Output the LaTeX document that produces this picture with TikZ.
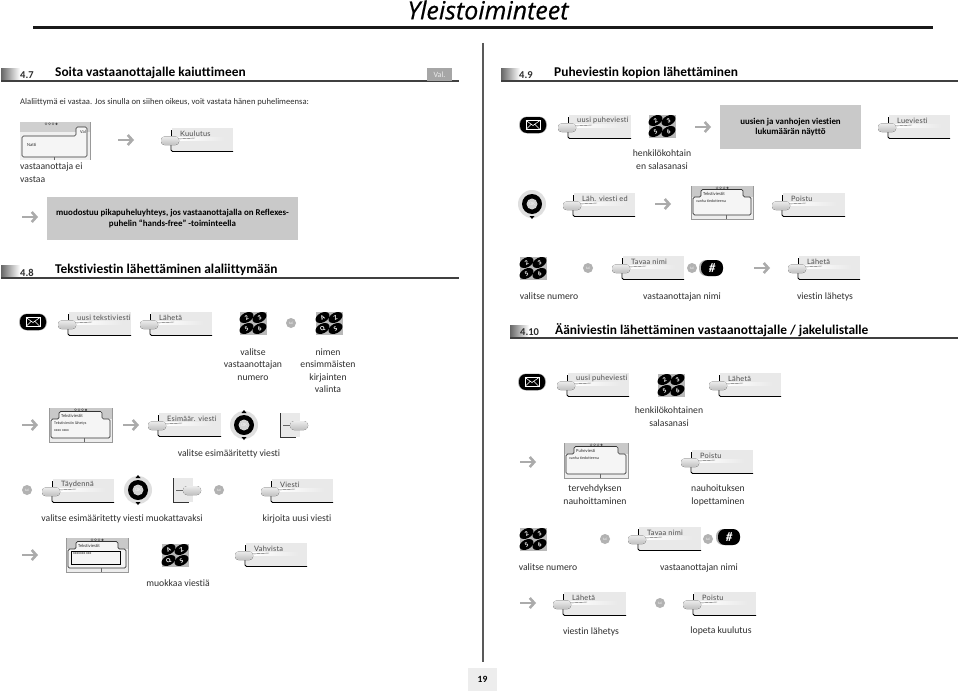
\documentclass[tikz,border=0pt]{standalone}
\usepackage{fontspec}
\setmainfont[Ligatures=NoCommon]{Carlito}
\newfontfamily\keyfont[LetterSpace=3,Ligatures=NoCommon]{Lato}
\newfontfamily\titlefont[ItalicFeatures={FakeBold=0.5}]{Open Sans}
\usetikzlibrary{shapes.geometric,arrows.meta}
\definecolor{boxgray}{HTML}{C9C9C9}
\definecolor{keybg}{HTML}{E9E9E9}
\definecolor{arrowgray}{HTML}{ABABAB}
\definecolor{ink}{HTML}{2E2E2E}
\tikzset{
  x=1pt,y=-1pt,
  body/.style={font=\fontsize{9.7}{13}\selectfont,text=ink,align=center,inner sep=0pt},
  bodyl/.style={body,anchor=west,align=left},
  graybox/.style={fill=boxgray,draw=none,inner sep=0pt,font=\fontsize{8.9}{10.2}\selectfont\bfseries,text=black,align=center},
  keylabel/.style={font=\keyfont\fontsize{7.4}{9}\selectfont,text=ink!85,inner sep=0pt,anchor=west},
  flow/.style={arrowgray,line width=2.6pt,-{Straight Barb[length=4.5pt,width=10pt,line width=2.6pt]}},
  orcircle/.style={circle,fill=gray!60,text=gray!15,minimum size=10pt,inner sep=0pt,font=\fontsize{4}{4}\selectfont},
  secnum/.style={font=\fontsize{10.5}{12}\selectfont\bfseries,text=ink,inner sep=0pt,anchor=west},
  sectitle/.style={font=\fontsize{13.4}{15}\selectfont\bfseries,text=black,inner sep=0pt,anchor=west},
  secline/.style={line width=1.1pt,draw=black!75},
  shade edge/.style={left color=black!60,right color=white},
  scrtext/.style={font=\fontsize{4.6}{5}\selectfont,text=ink,inner sep=0pt,anchor=west},
}
\newcommand\softkey[4]{%
  \begin{scope}[shift={(#1,#2)}]
    \fill[keybg] (1,0) rectangle (#3,24);
    \fill[left color=white,right color=keybg] (7,9.5) rectangle (#3-8,12);
    \draw[black!60,line width=.4pt] (7,11) -- (24,10);
    \draw[line width=.9pt,black,rounded corners=1.5pt] (0,16) -- (0,23.5) -- (#3,23.5);
    \draw[line width=.8pt,black] (0,2) -- (0,8);
    \fill[rounded corners=3.5pt,top color=gray!15,bottom color=gray!50] (-10,8.5) rectangle (8,17);
    \node[keylabel] at (9,5.5) {#4};
  \end{scope}}
\newcommand\revkey[3]{%
  \begin{scope}[shift={(#1,#2)}]
    \fill[keybg] (0,0) rectangle (20,24);
    \draw[line width=.7pt,black!80] (0,0) -- (0,24) -- (16,24);
    \draw[line width=.5pt,black!60] (3,12.5) -- (10,12.5);
    \fill[rounded corners=4pt,top color=gray!15,bottom color=gray!50] (10,8) rectangle (28,#3);
  \end{scope}}
\newcommand\scrdots[1]{%
  \foreach \dx in {-6,-2.5,1} \draw[black!60,line width=.3pt] (#1+\dx,1.8) circle (1.1);
  \fill[black!70] (#1+4.5,1.8) circle (1.2);}
\newcommand\screen[7]{%
  \begin{scope}[shift={(#1,#2)}]
    \fill[gray!14] (0,0) rectangle (#3,#4);
    \fill[gray!42] (0,0) rectangle (#3,11);
    \draw[black!40,line width=.4pt] (0,0) -- (0,#4) -- (#3,#4) -- (#3,0);
    \scrdots{#3/2+1}
    \draw[line width=.7pt,black!80,fill=gray!8,rounded corners=1.5pt]
      (2,#4-4) -- (2,11) -- (10,11) -- (10,3.5) -- (#3-10,3.5) -- (#3-10,11) -- (#3-2,11) -- (#3-2,#4-4) -- cycle;
    \draw[black!60,line width=.4pt] (#3/2+4,#4-4) -- (#3/2+4,#4);
    \node[scrtext] at (12,7.5) {#5};
    \node[scrtext,font=\fontsize{4}{4}\selectfont] at (5,15.5) {#6};
    \node[scrtext,font=\fontsize{4}{4}\selectfont] at (5,22.5) {#7};
  \end{scope}}
\newcommand\keypad[6]{%
  \begin{scope}[shift={(#1,#2)}]
    \fill[gray!55] (-13.5,-11.5) rectangle (13.5,11.5);
    \foreach \px/\py/\lab in {-6.5/-5.5/#3,6.5/-5.5/#4,-6.5/5.5/#5,6.5/5.5/#6}
      \node[ellipse,fill=black,text=white,minimum width=15pt,minimum height=9.5pt,inner sep=0pt,rotate=28,
        font=\fontsize{6.5}{6.5}\selectfont\bfseries] at (\px,\py) {\lab};
  \end{scope}}
\newcommand\mailicon[2]{%
  \begin{scope}[shift={(#1,#2)}]
    \fill[gray!60,rounded corners=8pt] (-14,-8.5) rectangle (14,8.5);
    \fill[black,rounded corners=7pt] (-13,-8) rectangle (13,8);
    \draw[white,line width=.8pt] (-7,-4.5) rectangle (7,4.5);
    \draw[white,line width=.6pt] (-7,-4.5) -- (0,.5) -- (7,-4.5) (-7,4.5) -- (-2,-.5) (7,4.5) -- (2,-.5);
  \end{scope}}
\newcommand\okwheel[3]{%
  \begin{scope}[shift={(#1,#2)}]
    \fill[gray!25] (0,0) circle (14);
    \fill[black] (0,0) circle (10);
    \fill[gray!35] (0,0) circle (5.5);
    \node[inner sep=0pt,text=gray!10,font=\fontsize{5}{5}\selectfont] at (0,0) {OK};
    \fill[black] (-2.5,12) -- (2.5,12) -- (0,15) -- cycle;
    \ifnum#3=1 \fill[black] (-2.5,-12) -- (2.5,-12) -- (0,-15) -- cycle; \fi
  \end{scope}}
\newcommand\hashkey[2]{%
  \begin{scope}[shift={(#1,#2)}]
    \fill[gray!60,rounded corners=7pt] (-13,-8) rectangle (10,8);
    \fill[black,rounded corners=7pt] (-11,-8) rectangle (11,8);
    \node[inner sep=0pt,text=white,font=\fontsize{13}{13}\selectfont\bfseries\itshape] at (0,0) {\#};
  \end{scope}}
\newcommand\sechead[6]{%
  \fill[shade edge] (#1,#2) rectangle (#1+19,#2+13);
  \draw[secline] (#1,#2+13) -- (#3,#2+13);
  \node[secnum] at (#4,#2+7.5) {#5};
  \node[sectitle] at (#4+35,#2+5) {#6};}
\begin{document}
\begin{tikzpicture}
\useasboundingbox (0,0) rectangle (960,693);
\fill[white] (0,0) rectangle (960,693);
% page furniture
\node[inner sep=0pt,font=\titlefont\fontsize{25}{27}\selectfont\itshape,text=black] (pagetitle) at (488,10) {Yleistoiminteet};
\draw[line width=2.8pt,black!90] (33,27.5) -- (933,27.5);
\draw[line width=1.2pt,black!65] (483,43) -- (483,662);
\node[fill=gray!14,minimum width=29pt,minimum height=23pt,inner sep=0pt,font=\fontsize{9.5}{10}\selectfont\bfseries] (pageno) at (482.5,679.5) {19};
% section headers
\sechead{1}{68}{459}{20}{4.7}{Soita vastaanottajalle kaiuttimeen}
\node[fill=gray!70,text=gray!15,minimum width=25pt,minimum height=13pt,inner sep=0pt,font=\fontsize{8}{9}\selectfont] (val) at (439.5,74.5) {Val.};
\sechead{501}{68}{958}{519}{4.9}{Puheviestin kopion lähettäminen}
\sechead{1}{265}{459}{20}{4.8}{Tekstiviestin lähettäminen alaliittymään}
\sechead{510}{325}{958}{520}{4.10}{Ääniviestin lähettäminen vastaanottajalle / jakelulistalle}
% 4.7
\node[bodyl,font=\fontsize{8.6}{11}\selectfont] (t1) at (20,102) {Alaliittymä ei vastaa. Jos sinulla on siihen oikeus, voit vastata hänen puhelimeensa:};
\begin{scope}[shift={(20,122)}]
  \fill[gray!12] (0,0) rectangle (70,38);
  \fill[gray!38] (0,0) rectangle (70,10);
  \draw[black!40,line width=.4pt] (70,0) -- (70,38);
  \scrdots{32}
  \draw[line width=.7pt,black!80,fill=gray!8,rounded corners=1.5pt] (2,35) -- (2,14) -- (56,14) -- (56,5) -- (67,5) -- (67,35) -- cycle;
  \draw[black!60,line width=.4pt] (34,35) -- (34,38);
  \node[scrtext] at (7,23) {Natti};
  \node[scrtext] at (60,10) {Val};
\end{scope}
\draw[flow] (118,140) -- (134,140);
\softkey{171}{128}{62}{Kuulutus}
\node[body,anchor=north west,align=left] (t2) at (20,163) {vastaanottaja ei\\vastaa};
\draw[flow] (22,217) -- (38,217);
\node[graybox,minimum width=251pt,minimum height=43pt] (b1) at (172.5,218.5) {muodostuu pikapuheluyhteys, jos vastaanottajalla on Reflexes-\\puhelin “hands-free” -toiminteella};
% 4.9
\mailicon{533}{125}
\softkey{568}{115}{63}{uusi puheviesti}
\keypad{662}{126}{2}{3}{5}{6}
\draw[flow] (695,127) -- (711,127);
\node[graybox,minimum width=141pt,minimum height=44pt] (b2) at (790.5,127) {uusien ja vanhojen viestien\\lukumäärän näyttö};
\softkey{888}{115}{62}{Lueviesti}
\node[body] (t3) at (662,160) {henkilökohtain\\en salasanasi};
\okwheel{532}{204}{0}
\softkey{573}{193}{62}{Läh. viesti ed}
\draw[flow] (655,204) -- (671,204);
\screen{691}{186}{62}{33}{Tekstiviestit}{vanha tiedotteena}{}
\softkey{782}{193}{63}{Poistu}
% 4.8 right part
\keypad{533}{268}{2}{3}{5}{6}
\node[orcircle] (o1) at (588,268) {tai};
\softkey{622}{256}{62}{Tavaa nimi}
\node[orcircle] (o2) at (692,268) {tai};
\hashkey{712}{268}
\draw[flow] (754,268) -- (770,268);
\softkey{798}{256}{62}{Lähetä}
\node[body] (t4) at (549,296) {valitse numero};
\node[body] (t5) at (682,297) {vastaanottajan nimi};
\node[body] (t6) at (825,297) {viestin lähetys};
% 4.8 left
\mailicon{33}{322}
\softkey{68}{312}{63}{uusi tekstiviesti}
\softkey{150}{312}{62}{Lähetä}
\keypad{253}{323}{2}{3}{5}{6}
\node[orcircle] (o3) at (291,323) {tai};
\keypad{329}{323}{A}{Z}{Q}{S}
\node[body,font=\fontsize{9.7}{12.4}\selectfont] (t7) at (253,364.5) {valitse\\vastaanottajan\\numero};
\node[body,font=\fontsize{9.7}{12.4}\selectfont] (t8) at (328,370.5) {nimen\\ensimmäisten\\kirjainten\\valinta};
\draw[flow] (22,425) -- (38,425);
\screen{49}{408}{63}{34}{Tekstiviestit}{Tekstiviestin lähetys}{xxxx xxxx}
\draw[flow] (123,425) -- (139,425);
\softkey{158}{413}{63}{Esimäär. viesti}
\okwheel{244}{425}{1}
\revkey{280}{413}{17}
\node[body] (t9) at (229,454) {valitse esimääritetty viesti};
\node[orcircle] (o4) at (27,490) {tai};
\softkey{52}{479}{62}{Täydennä}
\okwheel{138}{490}{1}
\revkey{173}{478}{17}
\node[orcircle] (o5) at (219,490) {tai};
\softkey{271}{479}{62}{Viesti}
\node[body] (t10) at (122,519) {valitse esimääritetty viesti muokattavaksi};
\node[body] (t11) at (297,519) {kirjoita uusi viesti};
\draw[flow] (22,555) -- (38,555);
\screen{66}{538}{62}{34}{Tekstiviestit}{}{}
\draw[line width=.9pt,black] (71,551) rectangle (120,564);
\node[scrtext,font=\fontsize{4}{4}\selectfont] (s1) at (73,554) {xxxxxxx xxx};
\keypad{175}{555}{A}{Z}{Q}{S}
\softkey{245}{543}{62}{Vahvista}
\node[body] (t12) at (178,583) {muokkaa viestiä};
% 4.10
\mailicon{532}{382}
\softkey{567}{373}{62}{uusi puheviesti}
\keypad{671}{385}{2}{3}{5}{6}
\softkey{719}{373}{62}{Lähetä}
\node[body] (t13) at (669,417) {henkilökohtainen\\salasanasi};
\draw[flow] (520,462) -- (536,462);
\screen{564}{443}{64}{35}{Puheviesti}{vanha tiedotteena}{}
\softkey{691}{450}{62}{Poistu}
\node[body] (t14) at (595,495) {tervehdyksen\\nauhoittaminen};
\node[body] (t15) at (718,495) {nauhoituksen\\lopettaminen};
\keypad{533}{539}{2}{3}{5}{6}
\node[orcircle] (o6) at (605,539) {tai};
\softkey{638}{527}{63}{Tavaa nimi}
\node[orcircle] (o7) at (708,539) {tai};
\hashkey{729}{537}
\node[body] (t16) at (548,567) {valitse numero};
\node[body] (t17) at (699,568) {vastaanottajan nimi};
\draw[flow] (520,603) -- (536,603);
\softkey{563}{592}{63}{Lähetä}
\node[orcircle] (o8) at (660,603) {tai};
\softkey{693}{592}{63}{Poistu}
\node[body] (t18) at (591,632) {viestin lähetys};
\node[body] (t19) at (721,631) {lopeta kuulutus};
\end{tikzpicture}
\end{document}
